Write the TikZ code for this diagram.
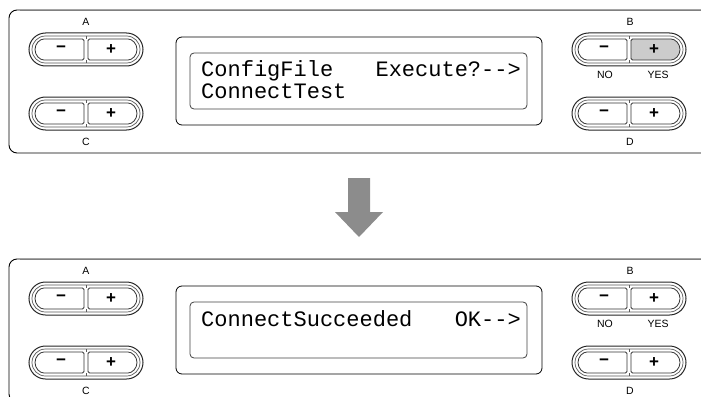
\documentclass[tikz,border=0pt]{standalone}
\usepackage{fontspec}
\setmainfont{Liberation Sans}
\newfontfamily\lcdfont{Liberation Mono}

\begin{document}
\begin{tikzpicture}[
    x=1pt, y=-1pt,
    frame/.style={line width=0.9pt, black},
    pillout/.style={line width=1pt, black!85, fill=white},
    pillin/.style={line width=0.7pt, black!65},
    key/.style={line width=0.8pt, black!80},
    keysign/.style={font=\bfseries\fontsize{17}{17}\selectfont, inner sep=0pt},
    tag/.style={font=\fontsize{10.5}{10.5}\selectfont, inner sep=0pt},
    lcd/.style={font=\lcdfont\fontsize{22}{22}\selectfont, inner sep=0pt}
]

% Define colors
\definecolor{pressed}{RGB}{204,204,204}
\definecolor{arrowgray}{RGB}{140,140,140}

\useasboundingbox (0,0) rectangle (701,396);

% Two panels: before and after
\foreach \py/\p/\hl in {0/top/pressed, 249/bot/white} {
\begin{scope}[shift={(0,\py)}]
    % Panel frame (open on the right)
    \draw[frame, rounded corners=8] (702,153) -- (9,153) -- (9,10) -- (702,10);
    \draw[line width=0.9pt, gray] (20,10) -- (702,10);

    % Display window
    \draw[line width=0.8pt, rounded corners=6] (176,37) rectangle (542,125);
    \draw[line width=0.8pt, black!75, rounded corners=4] (190,53) rectangle (527,109);

    % Button pairs
    \foreach \cx/\cy/\k/\kf in {86/49.5/A/white, 86/113.5/C/white, 629/49.5/B/\hl, 629/113.5/D/white} {
        \begin{scope}[shift={(\cx,\cy)}]
            \draw[pillout, rounded corners=16.5] (-57,-16.5) rectangle (57,16.5);
            \draw[pillin, rounded corners=13.5] (-54,-13.5) rectangle (54,13.5);
            \draw[pillin] (0,-13.5) -- (0,-10.5) (0,10.5) -- (0,13.5);
            % minus key
            \draw[key, fill=white, rounded corners=1.5] (-2,-10.5) -- (-40.5,-10.5)
                arc[start angle=270, end angle=90, radius=10.5] -- (-2,10.5) -- cycle;
            % plus key
            \draw[key, fill=\kf, rounded corners=1.5] (2,-10.5) -- (40.5,-10.5)
                arc[start angle=270, end angle=450, radius=10.5] -- (2,10.5) -- cycle;
            \node[keysign] (minus\p\k) at (-25,0) {−};
            \node[keysign] (plus\p\k) at (25,0) {+};
        \end{scope}
    }

    % Button labels
    \node[tag] (lblA\p) at (86,22) {A};
    \node[tag] (lblC\p) at (86,142) {C};
    \node[tag] (lblB\p) at (630,22) {B};
    \node[tag] (lblD\p) at (630,142) {D};
    \node[tag] (lblNo\p) at (605,74.5) {NO};
    \node[tag] (lblYes\p) at (658,74.5) {YES};
\end{scope}
}

% Display texts
\node[lcd, anchor=base west] (cfg) at (201,77) {ConfigFile};
\node[lcd, anchor=base east] (exec) at (521,77) {Execute?-->};
\node[lcd, anchor=base west] (test) at (201,98) {ConnectTest};
\node[lcd, anchor=base west] (done) at (201,326) {ConnectSucceeded};
\node[lcd, anchor=base east] (ok) at (521,326) {OK-->};

% Down arrow between panels
\fill[arrowgray] (348,178) -- (370,178) -- (370,212) -- (383,212) -- (359,237)
    -- (335,212) -- (348,212) -- cycle;

\end{tikzpicture}
\end{document}
